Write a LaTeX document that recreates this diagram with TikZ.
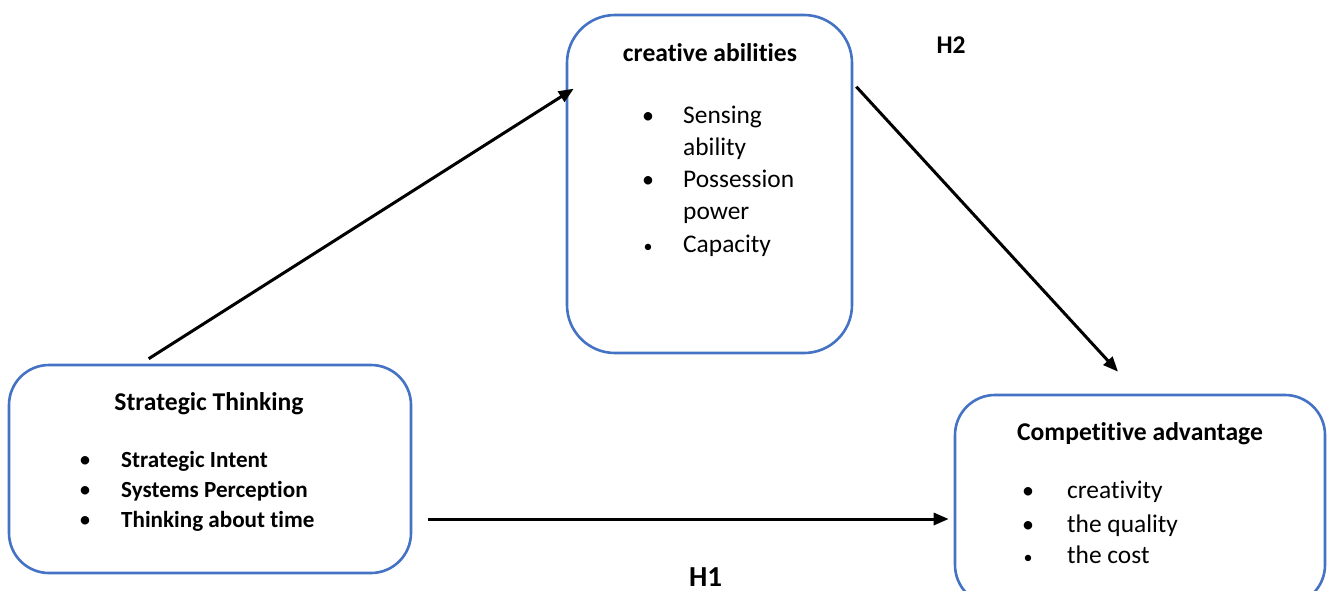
\documentclass[tikz,border=0pt]{standalone}
\usepackage{fontspec}
\setmainfont{Carlito}[Ligatures={NoCommon}]
\usetikzlibrary{arrows.meta}
\definecolor{boxblue}{HTML}{4472C4}
\tikzset{
  panel/.style={draw=boxblue, line width=2.6pt, fill=white, inner sep=0pt},
  link/.style={draw=black, line width=3pt, -{Triangle[length=15pt,width=12pt]}},
  ttl/.style={anchor=base, inner sep=0pt, font=\fontsize{25.6}{30}\selectfont\bfseries},
  itm/.style={anchor=base west, inner sep=0pt, font=\fontsize{25.4}{30}\selectfont},
  itmb/.style={anchor=base west, inner sep=0pt, font=\fontsize{23.1}{28}\selectfont\bfseries},
  bul/.style={anchor=base, inner sep=0pt, font=\fontsize{24}{29}\selectfont},
  bulsm/.style={anchor=base, inner sep=0pt, font=\fontsize{18}{22}\selectfont},
  hypa/.style={anchor=base, inner sep=0pt, font=\fontsize{25.5}{30}\selectfont\bfseries},
  hypb/.style={anchor=base, inner sep=0pt, font=\fontsize{29}{35}\selectfont\bfseries},
}
\begin{document}
\begin{tikzpicture}[x=1pt,y=-1pt]
\useasboundingbox (0,0) rectangle (1329,590);
\clip (0,0) rectangle (1329,590);
% boxes
\node[panel, rounded corners=48pt, minimum width=285pt, minimum height=338pt] (ca) at (709.5,184) {};
\node[panel, rounded corners=40pt, minimum width=402pt, minimum height=208pt] (st) at (210,469) {};
\node[panel, rounded corners=40pt, minimum width=370pt, minimum height=210pt] (cp) at (1140,500) {};
% creative abilities
\node[ttl] (catitle) at (710,61) {creative abilities};
\node[bul] (cab1) at (648,123) {•};
\node[itm] (ca1) at (683,123) {Sensing};
\node[itm] (ca1b) at (683,155.5) {ability};
\node[bul] (cab2) at (648,187) {•};
\node[itm] (ca2) at (683,187) {Possession};
\node[itm] (ca2b) at (683,219.5) {power};
\node[bulsm] (cab3) at (648,252) {•};
\node[itm] (ca3) at (683,252) {Capacity};
% strategic thinking
\node[ttl] (sttitle) at (209,410) {Strategic Thinking};
\node[bul] (stb1) at (85,467) {•};
\node[itmb] (st1) at (121,467) {Strategic Intent};
\node[bul] (stb2) at (85,497) {•};
\node[itmb] (st2) at (121,497) {Systems Perception};
\node[bul] (stb3) at (85,527) {•};
\node[itmb] (st3) at (121,527) {Thinking about time};
% competitive advantage
\node[ttl] (cptitle) at (1140,440) {Competitive advantage};
\node[bul] (cpb1) at (1028,498) {•};
\node[itm] (cp1) at (1067,498) {creativity};
\node[bul] (cpb2) at (1028,532) {•};
\node[itm] (cp2) at (1067,532) {the quality};
\node[bulsm] (cpb3) at (1028,563) {•};
\node[itm] (cp3) at (1067,563) {the cost};
% hypotheses
\node[hypa] (h2) at (951,53) {H2};
\node[hypb] (h1) at (705.5,586) {H1};
% connectors
\draw[link] ([xshift=141pt,yshift=5pt]st.north west) -- ([xshift=8pt,yshift=-75pt]ca.north west);
\draw[link] ([xshift=3pt,yshift=-73pt]ca.north east) -- ([xshift=-22pt,yshift=22pt]cp.north);
\draw[link] ([xshift=16pt,yshift=-50pt]st.east) -- ([xshift=-5pt,yshift=-19pt]cp.west);
\end{tikzpicture}
\end{document}
